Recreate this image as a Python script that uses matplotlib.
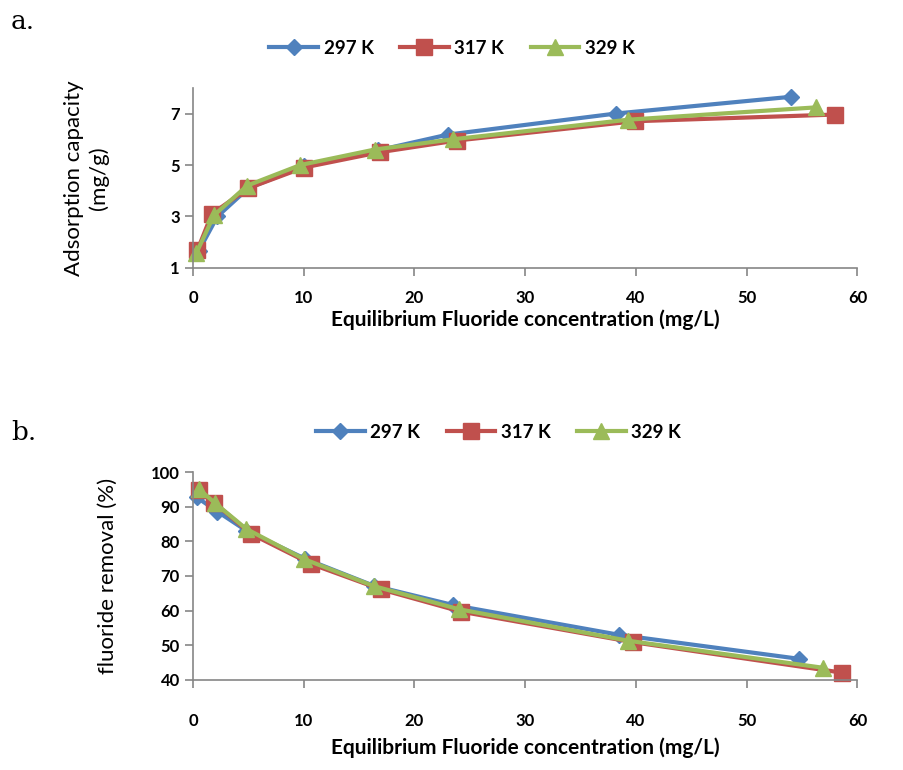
import numpy as np
import matplotlib.pyplot as plt

# panel a: adsorption capacity vs equilibrium concentration
ce_297 = [0.5, 2.2, 5.0, 10.0, 16.7, 23.0, 38.2, 54.0]
qe_297 = [1.65, 3.0, 4.1, 4.95, 5.57, 6.18, 7.0, 7.65]
ce_317 = [0.4, 1.7, 5.0, 10.0, 16.9, 23.8, 39.9, 58.0]
qe_317 = [1.69, 3.1, 4.1, 4.9, 5.5, 5.95, 6.7, 6.96]
ce_329 = [0.3, 1.9, 4.9, 9.7, 16.4, 23.5, 39.3, 56.3]
qe_329 = [1.58, 3.05, 4.2, 5.0, 5.6, 6.0, 6.76, 7.24]

# panel b: removal percent
cb_297 = [0.34, 2.2, 4.8, 10.1, 16.3, 23.5, 38.5, 54.7]
rem_297 = [92.7, 88.6, 83.1, 75.0, 67.2, 61.6, 53.0, 46.1]
cb_317 = [0.55, 1.9, 5.2, 10.7, 17.0, 24.2, 39.7, 58.6]
rem_317 = [94.8, 91.2, 82.2, 73.4, 66.1, 59.7, 50.9, 42.1]
cb_329 = [0.55, 2.0, 4.8, 10.0, 16.3, 24.0, 39.3, 56.9]
rem_329 = [95.0, 91.0, 83.6, 74.9, 67.1, 60.4, 51.3, 43.5]

labels = ["297 K", "317 K", "329 K"]
colors = ["#4F81BD", "#C0504D", "#9BBB59"]
markers = ["D", "s", "^"]
msizes = [8, 11, 11]

font = ["Lato", "DejaVu Sans"]
plt.rcParams["font.family"] = font

fig = plt.figure(figsize=(9.04, 7.7), dpi=100)
ax1 = fig.add_axes([0.2135, 0.652, 0.735, 0.234])
ax2 = fig.add_axes([0.2135, 0.117, 0.735, 0.270])


def style(ax):
    for s in ["top", "right"]:
        ax.spines[s].set_visible(False)
    for s in ["left", "bottom"]:
        ax.spines[s].set_color("#868686")
        ax.spines[s].set_linewidth(1.2)
    ax.tick_params(direction="out", length=6, width=1.2, color="#868686",
                   labelsize=12)
    for t in ax.get_xticklabels() + ax.get_yticklabels():
        t.set_fontweight("bold")
    ax.set_xlim(0, 60)
    ax.set_xticks(np.arange(0, 61, 10))


for ax, series in [(ax1, [(ce_297, qe_297), (ce_317, qe_317), (ce_329, qe_329)]),
                   (ax2, [(cb_297, rem_297), (cb_317, rem_317), (cb_329, rem_329)])]:
    for (x, y), lab, c, m, ms in zip(series, labels, colors, markers, msizes):
        ax.plot(x, y, color=c, marker=m, markersize=ms, linewidth=3,
                label=lab, clip_on=False)

ax1.set_ylim(1, 8)
ax1.set_yticks([1, 3, 5, 7])
ax2.set_ylim(40, 100)
ax2.set_yticks(np.arange(40, 101, 10))
style(ax1)
style(ax2)
ax1.tick_params(axis="x", pad=10)
ax2.tick_params(axis="x", pad=18)

ax1.set_xlabel("Equilibrium Fluoride concentration (mg/L)", fontsize=15,
               fontweight="bold", labelpad=2)
ax2.set_xlabel("Equilibrium Fluoride concentration (mg/L)", fontsize=15,
               fontweight="bold", labelpad=6)
ax1.set_ylabel("Adsorption capacity\n(mg/g)", fontsize=16, labelpad=44,
               linespacing=1.3)
ax2.set_ylabel("fluoride removal (%)", fontsize=16, labelpad=24)

for ax, bx, yy in [(ax1, 0.39, 1.22), (ax2, 0.46, 1.19)]:
    ax.legend(loc="center", bbox_to_anchor=(bx, yy), ncol=3, frameon=False,
              prop={"weight": "bold", "size": 13.5}, handlelength=2.6,
              columnspacing=1.4, handletextpad=0.3)

fig.text(0.012, 0.962, "a.", fontsize=19, family="DejaVu Serif")
fig.text(0.012, 0.428, "b.", fontsize=19, family="DejaVu Serif")

fig.savefig("out.png", dpi=100)
